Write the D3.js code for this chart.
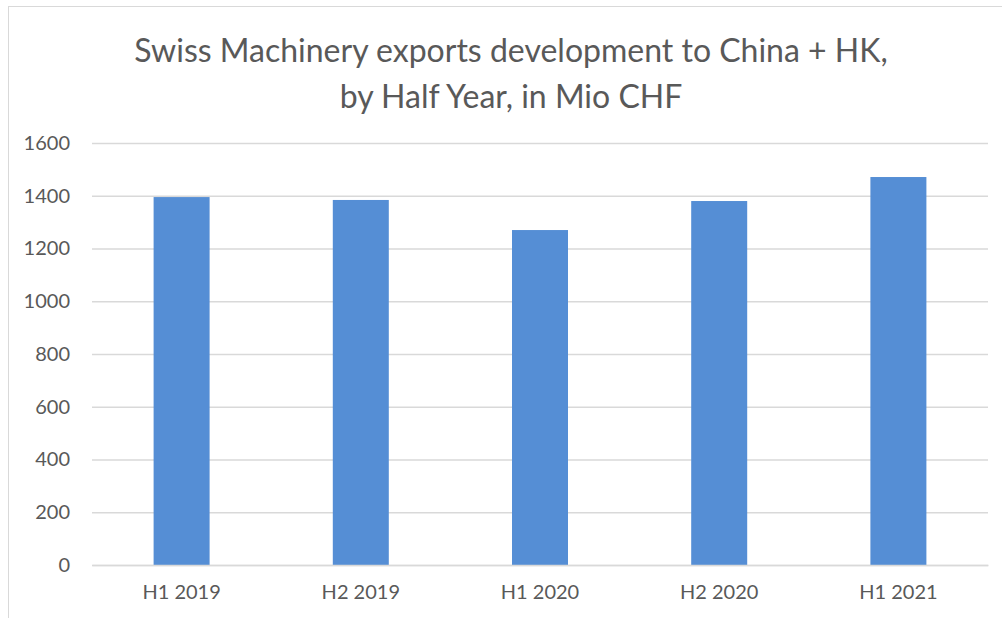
<!DOCTYPE html>
<html>
<head>
<meta charset="utf-8">
<script src="https://cdn.jsdelivr.net/npm/d3@7"></script>
<style>
  body { margin: 0; background: #fff; }
  svg { display: block; font-family: Lato, "Open Sans", sans-serif; }
</style>
</head>
<body>
<script>
const categories = ["H1 2019", "H2 2019", "H1 2020", "H2 2020", "H1 2021"];
const values = [1395, 1384, 1270, 1380, 1471];
const yTicks = [0, 200, 400, 600, 800, 1000, 1200, 1400, 1600];
const titleLines = ["Swiss Machinery exports development to China + HK,", "by Half Year, in Mio CHF"];

var width = 1002, height = 618;
var margin = { top: 143, right: 14, bottom: 53, left: 92 };

var svg = d3.select("body").append("svg")
    .attr("width", width)
    .attr("height", height);

// chart frame
svg.append("rect")
    .attr("x", 8.5).attr("y", 6.5)
    .attr("width", 1010).attr("height", 630)
    .style("fill", "none")
    .style("stroke", "#d9d9d9");

svg.append("text")
    .attr("text-anchor", "middle")
    .style("fill", "#595959")
    .style("font-size", "32px")
    .selectAll("tspan")
    .data(titleLines)
    .enter().append("tspan")
    .attr("x", 511)
    .attr("y", (d, i) => 62 + i * 46)
    .text(d => d);

var x = d3.scaleBand()
    .domain(categories)
    .range([margin.left, width - margin.right])
    .paddingInner(0.6875)
    .paddingOuter(0.34375);

var y = d3.scaleLinear()
    .domain([0, 1600])
    .range([height - margin.bottom, margin.top]);

var yAxis = svg.append("g")
    .attr("transform", "translate(" + margin.left + ",0)")
    .call(d3.axisLeft(y).tickValues(yTicks).tickFormat(d3.format("d"))
        .tickSize(-(width - margin.left - margin.right)).tickPadding(22));
yAxis.select(".domain").remove();
yAxis.selectAll("line").style("stroke", "#d9d9d9").style("stroke-width", 1.3);
yAxis.selectAll("text").style("fill", "#595959").style("font-size", "20px").style("font-family", "Lato");

svg.append("g")
    .selectAll("rect")
    .data(values)
    .enter().append("rect")
    .attr("x", (d, i) => x(categories[i]))
    .attr("y", d => y(d))
    .attr("width", x.bandwidth())
    .attr("height", d => y(0) - y(d))
    .style("fill", "#558ed5");

var xAxis = svg.append("g")
    .attr("transform", "translate(0," + y(0) + ")")
    .call(d3.axisBottom(x).tickSize(0).tickPadding(20));
xAxis.select(".domain").style("stroke", "#d9d9d9").style("stroke-width", 1.3);
xAxis.selectAll("text").style("fill", "#595959").style("font-size", "20px").style("font-family", "Lato");
</script>
</body>
</html>
